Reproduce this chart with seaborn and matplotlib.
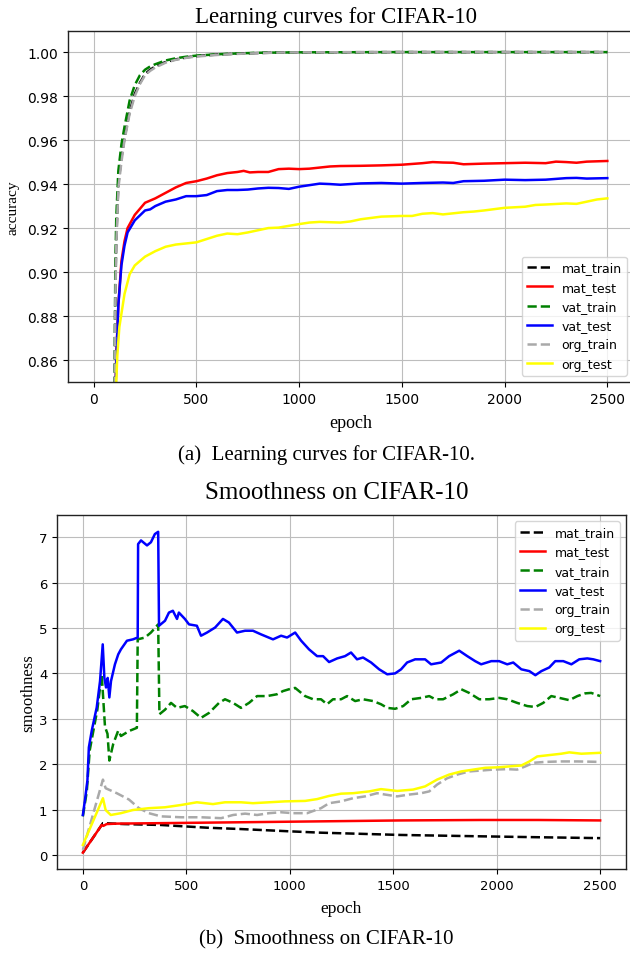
import matplotlib
matplotlib.use("Agg")
import matplotlib.pyplot as plt
import seaborn as sns

# ---------------- (a) Learning curves ----------------
train_epochs = [100, 105, 110, 120, 135, 150, 175, 200, 225, 250, 275, 300, 350, 400,
                450, 500, 600, 700, 800, 900, 1000, 1500, 2000, 2500]
mat_train_acc = [0.80, 0.89, 0.915, 0.940, 0.952, 0.961, 0.973, 0.981, 0.986, 0.9900, 0.9920,
                 0.9935, 0.9955, 0.9967, 0.9976, 0.9982, 0.9989, 0.9993, 0.9996, 0.9998,
                 0.9999, 1.0, 1.0, 1.0]
vat_train_acc = [0.80, 0.90, 0.925, 0.946, 0.958, 0.966, 0.978, 0.985, 0.9895, 0.9920, 0.9935,
                 0.9945, 0.9962, 0.9972, 0.9979, 0.9984, 0.9990, 0.9994, 0.9997, 0.9998,
                 0.9999, 1.0, 1.0, 1.0]
org_train_acc = [0.80, 0.885, 0.912, 0.938, 0.950, 0.960, 0.972, 0.980, 0.9855, 0.9895, 0.9915,
                 0.9930, 0.9952, 0.9965, 0.9974, 0.9980, 0.9987, 0.9992, 0.9995, 0.9998,
                 0.9999, 1.0, 1.0, 1.0]

mat_test_epochs = [100, 105, 110, 120, 135, 150, 165, 200, 250, 300, 350, 400, 450, 500, 550,
                   600, 650, 700, 730, 760, 800, 850, 900, 950, 1000, 1050, 1100, 1150, 1200,
                   1300, 1400, 1500, 1600, 1650, 1700, 1750, 1800, 1900, 2000, 2100, 2200,
                   2250, 2300, 2350, 2400, 2500]
mat_test_acc = [0.80, 0.84, 0.862, 0.885, 0.905, 0.914, 0.920, 0.926, 0.9315, 0.9335, 0.936,
                0.9385, 0.9405, 0.9413, 0.9425, 0.944, 0.945, 0.9455, 0.946, 0.9453, 0.9455,
                0.9455, 0.9468, 0.947, 0.9468, 0.947, 0.9475, 0.948, 0.9482, 0.9483, 0.9485,
                0.9488, 0.9495, 0.950, 0.9498, 0.9497, 0.949, 0.9493, 0.9495, 0.9497, 0.9495,
                0.9502, 0.950, 0.9497, 0.9502, 0.9505]

vat_test_epochs = [100, 105, 110, 120, 135, 150, 165, 200, 250, 275, 300, 350, 400, 450, 500,
                   550, 600, 650, 700, 750, 800, 850, 900, 950, 1000, 1050, 1100, 1150, 1200,
                   1300, 1400, 1500, 1600, 1700, 1750, 1800, 1900, 2000, 2100, 2200, 2300,
                   2350, 2400, 2500]
vat_test_acc = [0.80, 0.84, 0.86, 0.885, 0.903, 0.912, 0.918, 0.9235, 0.928, 0.9285, 0.930,
                0.932, 0.933, 0.9345, 0.9345, 0.935, 0.9368, 0.9373, 0.9373, 0.9375, 0.938,
                0.9383, 0.9382, 0.9378, 0.9388, 0.9395, 0.9402, 0.940, 0.9397, 0.9403, 0.9405,
                0.9402, 0.9405, 0.9407, 0.9405, 0.9413, 0.9415, 0.942, 0.9418, 0.942, 0.9427,
                0.9428, 0.9425, 0.9427]

org_test_epochs = [100, 105, 110, 115, 125, 150, 175, 200, 250, 300, 350, 400, 450, 500, 550,
                   600, 650, 700, 750, 800, 850, 900, 950, 1000, 1050, 1100, 1200, 1250, 1300,
                   1400, 1500, 1550, 1600, 1650, 1700, 1800, 1850, 1900, 2000, 2100, 2150,
                   2200, 2300, 2350, 2400, 2450, 2500]
org_test_acc = [0.80, 0.83, 0.85, 0.862, 0.875, 0.890, 0.899, 0.903, 0.907, 0.9095, 0.9115,
                0.9125, 0.913, 0.9135, 0.915, 0.9165, 0.9175, 0.9172, 0.918, 0.919, 0.920,
                0.9202, 0.921, 0.9218, 0.9225, 0.9228, 0.9225, 0.923, 0.924, 0.9252, 0.9255,
                0.9255, 0.9265, 0.9268, 0.9262, 0.9272, 0.9275, 0.928, 0.9292, 0.9297,
                0.9305, 0.9307, 0.9312, 0.931, 0.932, 0.933, 0.9335]

# ---------------- (b) Smoothness ----------------
mat_train_sm_epochs = [0, 97, 200, 377, 600, 764, 1000, 1151, 1538, 1925, 2200, 2500]
mat_train_sm = [0.05, 0.70, 0.68, 0.66, 0.60, 0.57, 0.52, 0.49, 0.44, 0.41, 0.39, 0.37]

mat_test_sm_epochs = [0, 91, 99, 115, 164, 377, 764, 1151, 1538, 1925, 2200, 2500]
mat_test_sm = [0.05, 0.66, 0.64, 0.68, 0.69, 0.70, 0.72, 0.74, 0.76, 0.77, 0.77, 0.76]

vat_train_sm_epochs = [0, 19, 33, 51, 70, 91, 99, 107, 119, 128, 147, 171, 184, 223, 261,
                       265, 300, 329, 364, 370, 397, 426, 455, 493, 532, 571, 610, 658, 687,
                       726, 764, 803, 842, 890, 938, 967, 996, 1026, 1074, 1113, 1151, 1180,
                       1209, 1248, 1277, 1316, 1354, 1403, 1441, 1471, 1509, 1548, 1587, 1635,
                       1674, 1703, 1741, 1790, 1829, 1867, 1916, 1964, 2012, 2051, 2099, 2148,
                       2187, 2225, 2264, 2303, 2351, 2390, 2428, 2457, 2500]
vat_train_sm = [0.85, 1.40, 2.30, 2.74, 3.20, 3.98, 3.40, 2.82, 2.67, 2.08, 2.45, 2.74, 2.62,
                2.73, 2.80, 4.75, 4.79, 4.90, 5.08, 3.10, 3.20, 3.35, 3.24, 3.28, 3.17, 3.02,
                3.13, 3.35, 3.43, 3.35, 3.24, 3.35, 3.50, 3.50, 3.54, 3.61, 3.65, 3.68, 3.50,
                3.43, 3.43, 3.32, 3.43, 3.43, 3.50, 3.39, 3.43, 3.39, 3.32, 3.24, 3.22, 3.28,
                3.43, 3.46, 3.50, 3.43, 3.43, 3.54, 3.65, 3.57, 3.43, 3.43, 3.46, 3.43, 3.35,
                3.28, 3.26, 3.35, 3.50, 3.46, 3.41, 3.50, 3.56, 3.57, 3.50]

vat_test_sm_epochs = [0, 11, 22, 29, 43, 67, 83, 96, 104, 112, 120, 128, 136, 155, 171, 184,
                      213, 242, 265, 267, 281, 310, 329, 348, 364, 368, 397, 416, 435, 455,
                      464, 493, 513, 551, 571, 600, 639, 677, 706, 745, 784, 822, 861, 919,
                      958, 987, 1026, 1055, 1093, 1132, 1161, 1190, 1229, 1267, 1296, 1325,
                      1354, 1393, 1432, 1471, 1509, 1538, 1567, 1606, 1654, 1683, 1732, 1770,
                      1819, 1858, 1896, 1925, 1974, 2012, 2051, 2080, 2119, 2158, 2187, 2216,
                      2254, 2283, 2322, 2361, 2399, 2438, 2467, 2500]
vat_test_sm = [0.88, 1.24, 1.64, 2.37, 2.74, 3.25, 3.83, 4.64, 3.90, 3.69, 3.90, 3.47, 3.83,
               4.20, 4.42, 4.53, 4.72, 4.75, 4.79, 6.85, 6.93, 6.82, 6.89, 7.07, 7.12, 5.05,
               5.16, 5.34, 5.38, 5.20, 5.34, 5.20, 5.08, 5.05, 4.83, 4.90, 5.01, 5.20, 5.12,
               4.90, 4.94, 4.94, 4.86, 4.75, 4.83, 4.79, 4.90, 4.72, 4.53, 4.38, 4.38, 4.25,
               4.33, 4.38, 4.46, 4.31, 4.35, 4.24, 4.09, 3.98, 4.00, 4.09, 4.24, 4.31, 4.31,
               4.20, 4.24, 4.38, 4.50, 4.38, 4.27, 4.20, 4.27, 4.27, 4.20, 4.24, 4.09, 4.05,
               3.96, 4.05, 4.13, 4.27, 4.27, 4.20, 4.31, 4.33, 4.31, 4.27]

org_train_sm_epochs = [0, 97, 110, 164, 223, 271, 319, 377, 474, 571, 668, 726, 784, 842,
                       900, 958, 1016, 1084, 1151, 1190, 1248, 1306, 1364, 1422, 1461, 1519,
                       1577, 1635, 1674, 1712, 1761, 1809, 1867, 1925, 1983, 2051, 2099, 2138,
                       2177, 2235, 2312, 2390, 2500]
org_train_sm = [0.11, 1.66, 1.47, 1.36, 1.22, 1.03, 0.92, 0.85, 0.83, 0.83, 0.81, 0.88, 0.91,
                0.88, 0.92, 0.94, 0.92, 0.92, 1.03, 1.14, 1.18, 1.25, 1.29, 1.36, 1.33, 1.29,
                1.33, 1.36, 1.40, 1.55, 1.69, 1.77, 1.84, 1.86, 1.88, 1.89, 1.88, 1.95, 2.03,
                2.05, 2.06, 2.06, 2.05]

org_test_sm_epochs = [0, 97, 110, 135, 184, 242, 319, 397, 474, 551, 629, 687, 764, 822, 900,
                      977, 1074, 1132, 1190, 1248, 1306, 1384, 1441, 1519, 1596, 1654, 1712,
                      1770, 1829, 1887, 1945, 2003, 2061, 2119, 2158, 2196, 2254, 2312, 2351,
                      2409, 2500]
org_test_sm = [0.22, 1.25, 0.99, 0.88, 0.92, 0.99, 1.03, 1.05, 1.10, 1.16, 1.12, 1.16, 1.16,
               1.14, 1.16, 1.18, 1.19, 1.23, 1.30, 1.35, 1.36, 1.40, 1.45, 1.41, 1.44, 1.51,
               1.66, 1.77, 1.84, 1.88, 1.92, 1.93, 1.95, 1.97, 2.06, 2.17, 2.20, 2.23, 2.26,
               2.23, 2.25]

x_ticks = [0, 500, 1000, 1500, 2000, 2500]
acc_ticks = [0.86, 0.88, 0.90, 0.92, 0.94, 0.96, 0.98, 1.00]
sm_ticks = [0, 1, 2, 3, 4, 5, 6, 7]

SERIF = ["Liberation Serif", "DejaVu Serif"]
LW = 1.8

fig = plt.figure(figsize=(6.3, 9.54), dpi=100)
fig.patch.set_facecolor("white")

ax1 = fig.add_axes([68 / 630, 1 - 383 / 954, 565 / 630, 351 / 954])
ax2 = fig.add_axes([57 / 630, 1 - 870 / 954, 569 / 630, 354 / 954])

top_series = [
    (train_epochs, mat_train_acc, "mat_train", "black", "--"),
    (mat_test_epochs, mat_test_acc, "mat_test", "red", "-"),
    (train_epochs, vat_train_acc, "vat_train", "green", "--"),
    (vat_test_epochs, vat_test_acc, "vat_test", "blue", "-"),
    (train_epochs, org_train_acc, "org_train", "darkgray", "--"),
    (org_test_epochs, org_test_acc, "org_test", "yellow", "-"),
]
bot_series = [
    (mat_train_sm_epochs, mat_train_sm, "mat_train", "black", "--"),
    (mat_test_sm_epochs, mat_test_sm, "mat_test", "red", "-"),
    (vat_train_sm_epochs, vat_train_sm, "vat_train", "green", "--"),
    (vat_test_sm_epochs, vat_test_sm, "vat_test", "blue", "-"),
    (org_train_sm_epochs, org_train_sm, "org_train", "darkgray", "--"),
    (org_test_sm_epochs, org_test_sm, "org_test", "yellow", "-"),
]

for ax, series in ((ax1, top_series), (ax2, bot_series)):
    for xs, ys, lab, col, ls in series:
        sns.lineplot(x=xs, y=ys, ax=ax, color=col, linestyle=ls, linewidth=LW,
                     label=lab, estimator=None, sort=False)
    ax.set_axisbelow(True)
    ax.grid(True, color="#bdbdbd", linewidth=0.8)
    ax.set_xticks(x_ticks)
    ax.set_xlim(-125, 2625)
    for s in ax.spines.values():
        s.set_color("#222222")
        s.set_linewidth(1.0)
    ax.set_facecolor("white")

ax1.set_ylim(0.85, 1.0096)
ax1.set_yticks(acc_ticks)
ax1.set_yticklabels([f"{t:.2f}" for t in acc_ticks])
ax1.tick_params(labelsize=10)
ax1.set_xlabel("epoch", family=SERIF, fontsize=13, labelpad=6)
ax1.set_ylabel("accuracy", family=SERIF, fontsize=11, labelpad=6)
ax1.legend(loc="lower right", fontsize=9, framealpha=0.8, handlelength=2.0)

ax2.set_ylim(-0.31, 7.49)
ax2.set_yticks(sm_ticks)
ax2.tick_params(labelsize=9.5)
ax2.set_xlabel("epoch", family=SERIF, fontsize=12.5, labelpad=6)
ax2.set_ylabel("smoothness", family=SERIF, fontsize=12, labelpad=2)
ax2.legend(loc="upper right", fontsize=9, framealpha=0.8, handlelength=2.0)

fig.text(336 / 630, 1 - 17 / 954, "Learning curves for CIFAR-10", family=SERIF,
         fontsize=16.5, ha="center", va="center")
fig.text(337 / 630, 1 - 493 / 954, "Smoothness on CIFAR-10", family=SERIF,
         fontsize=18, ha="center", va="center")
fig.text(326 / 630, 1 - 455 / 954, "(a)  Learning curves for CIFAR-10.", family=SERIF,
         fontsize=15, ha="center", va="center")
fig.text(326 / 630, 1 - 940 / 954, "(b)  Smoothness on CIFAR-10", family=SERIF,
         fontsize=15, ha="center", va="center")

fig.savefig("out.png", dpi=100, facecolor="white")
